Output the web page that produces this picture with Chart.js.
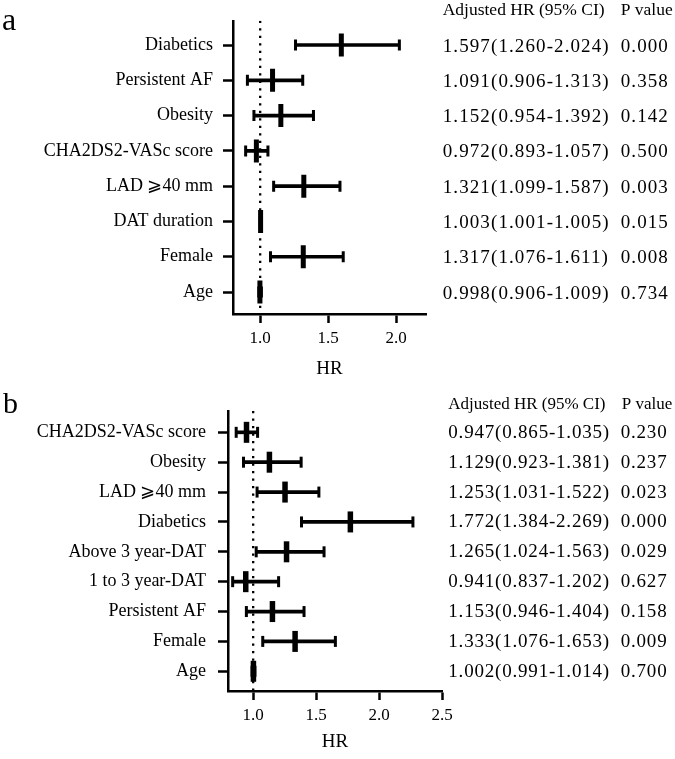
<!DOCTYPE html>
<html>
<head>
<meta charset="utf-8">
<script src="https://cdn.jsdelivr.net/npm/chart.js@4.4.0/dist/chart.umd.min.js"></script>
<style>
  html, body { margin: 0; padding: 0; background: #fff; }
  #wrap { position: relative; width: 675px; height: 759px; }
  canvas { position: absolute; left: 0; }
</style>
</head>
<body>
<div id="wrap">
  <canvas id="chartA" width="675" height="380" style="top:0px"></canvas>
  <canvas id="chartB" width="675" height="379" style="top:380px"></canvas>
</div>
<script>
const FONT = '"Liberation Serif", "Times New Roman", serif';

// Panel a
const labelsA = ['Diabetics', 'Persistent AF', 'Obesity', 'CHA2DS2-VASc score', 'LAD \u2A7E40 mm', 'DAT duration', 'Female', 'Age'];
const hrA = [1.597, 1.091, 1.152, 0.972, 1.321, 1.003, 1.317, 0.998];
const lowA = [1.260, 0.906, 0.954, 0.893, 1.099, 1.001, 1.076, 0.990];
const highA = [2.024, 1.313, 1.392, 1.057, 1.587, 1.005, 1.611, 1.009];
const ciTextA = ['1.597(1.260-2.024)', '1.091(0.906-1.313)', '1.152(0.954-1.392)', '0.972(0.893-1.057)',
  '1.321(1.099-1.587)', '1.003(1.001-1.005)', '1.317(1.076-1.611)', '0.998(0.906-1.009)'];
const pTextA = ['0.000', '0.358', '0.142', '0.500', '0.003', '0.015', '0.008', '0.734'];
const xTicksA = [1.0, 1.5, 2.0];

// Panel b
const labelsB = ['CHA2DS2-VASc score', 'Obesity', 'LAD \u2A7E40 mm', 'Diabetics', 'Above 3 year-DAT',
  '1 to 3 year-DAT', 'Persistent AF', 'Female', 'Age'];
const hrB = [0.947, 1.129, 1.253, 1.772, 1.265, 0.941, 1.153, 1.333, 1.002];
const lowB = [0.865, 0.923, 1.031, 1.384, 1.024, 0.837, 0.946, 1.076, 0.991];
const highB = [1.035, 1.381, 1.522, 2.269, 1.563, 1.202, 1.404, 1.653, 1.014];
const ciTextB = ['0.947(0.865-1.035)', '1.129(0.923-1.381)', '1.253(1.031-1.522)', '1.772(1.384-2.269)',
  '1.265(1.024-1.563)', '0.941(0.837-1.202)', '1.153(0.946-1.404)', '1.333(1.076-1.653)', '1.002(0.991-1.014)'];
const pTextB = ['0.230', '0.237', '0.023', '0.000', '0.029', '0.627', '0.158', '0.009', '0.700'];
const xTicksB = [1.0, 1.5, 2.0, 2.5];

const refHR = 1.0;

// draws the panel letter and the HR / p value table next to each row
const tablePlugin = {
  id: 'tableText',
  afterDraw(chart, args, opts) {
    const ctx = chart.ctx;
    const yScale = chart.scales.y;
    ctx.save();
    ctx.fillStyle = '#000';
    ctx.textAlign = 'left';

    ctx.textBaseline = 'alphabetic';
    ctx.font = opts.letterSize + 'px ' + FONT;
    ctx.fillText(opts.letter, opts.letterX, opts.letterY);

    ctx.textBaseline = 'middle';
    ctx.font = opts.headSize + 'px ' + FONT;
    ctx.fillText('Adjusted HR (95% CI)', opts.ciX, opts.headY);
    ctx.fillText('P value', opts.pHeadX, opts.headY);

    ctx.font = '19px ' + FONT;
    ctx.letterSpacing = opts.spacing + 'px';
    opts.ci.forEach((t, i) => {
      const y = yScale.getPixelForValue(i) + opts.dy;
      ctx.fillText(t, opts.ciX, y);
      ctx.fillText(opts.p[i], opts.pX, y);
    });
    ctx.restore();
  }
};

function makeForest(id, d) {
  const rows = d.labels.map((_, i) => i);
  const caps = [];
  rows.forEach(i => {
    caps.push({ x: d.low[i], y: i });
    caps.push({ x: d.high[i], y: i });
  });

  return new Chart(document.getElementById(id), {
    type: 'scatter',
    data: {
      datasets: [
        {
          // point estimate
          type: 'scatter',
          data: rows.map(i => ({ x: d.hr[i], y: i })),
          pointStyle: 'line',
          rotation: 90,
          pointRadius: d.markR,
          borderWidth: d.markW,
          borderColor: '#000',
          order: 0
        },
        {
          // whisker caps
          type: 'scatter',
          data: caps,
          pointStyle: 'line',
          rotation: 90,
          pointRadius: 5.5,
          borderWidth: 3,
          borderColor: '#000',
          order: 1
        },
        {
          // confidence interval line
          type: 'bar',
          indexAxis: 'y',
          data: rows.map(i => ({ y: i, x: [d.low[i], d.high[i]] })),
          backgroundColor: '#000',
          borderWidth: 0,
          barThickness: 3,
          order: 2
        },
        {
          // reference line at HR = 1
          type: 'scatter',
          data: [{ x: refHR, y: d.yMin }, { x: refHR, y: d.yMax }],
          showLine: true,
          borderColor: '#000',
          borderWidth: 2.3,
          borderDash: [2.3, 5.2],
          pointRadius: 0,
          order: 3
        }
      ]
    },
    options: {
      responsive: false,
      animation: false,
      events: [],
      layout: { padding: { left: 0, top: d.top, right: 675 - d.right, bottom: 0 } },
      plugins: {
        legend: { display: false },
        tooltip: { enabled: false },
        tableText: d.table
      },
      scales: {
        x: {
          type: 'linear',
          min: d.xMin,
          max: d.xMax,
          offset: false,
          border: { display: true, color: '#000', width: 2.5 },
          grid: { offset: false, drawOnChartArea: false, drawTicks: true, tickLength: 9, tickWidth: 2.5, tickColor: '#000' },
          ticks: {
            color: '#000',
            font: { family: FONT, size: 17 },
            padding: 5,
            autoSkip: false,
            maxRotation: 0,
            callback: v => v.toFixed(1)
          },
          title: {
            display: true,
            text: 'HR',
            color: '#000',
            font: { family: FONT, size: 19 },
            padding: { top: 0, bottom: d.titlePad }
          },
          afterBuildTicks: s => { s.ticks = d.xTicks.map(v => ({ value: v })); },
          afterFit: s => { s.height = d.xHeight; }
        },
        y: {
          type: 'linear',
          reverse: true,
          min: d.yMin,
          max: d.yMax,
          offset: false,
          border: { display: true, color: '#000', width: 2.5 },
          grid: { offset: false, drawOnChartArea: false, drawTicks: true, tickLength: 10, tickWidth: 2.5, tickColor: '#000' },
          ticks: {
            color: '#000',
            font: { family: FONT, size: 18 },
            padding: d.labelPad,
            autoSkip: false,
            callback: v => d.labels[v]
          },
          afterBuildTicks: s => { s.ticks = rows.map(i => ({ value: i })); },
          afterFit: s => { s.width = d.left; }
        }
      }
    },
    plugins: [tablePlugin]
  });
}

makeForest('chartA', {
  labels: labelsA, hr: hrA, low: lowA, high: highA, xTicks: xTicksA,
  xMin: 0.8, xMax: 2.22, yMin: -0.687, yMax: 7.622,
  left: 233, right: 426, top: 20, xHeight: 66, titlePad: 0, labelPad: 10,
  markR: 11.5, markW: 5,
  table: {
    letter: 'a', letterX: 2, letterY: 30, letterSize: 32,
    headSize: 17.5, headY: 10, ciX: 442.7, pHeadX: 620.7, pX: 620.7,
    dy: 1.5, spacing: 1.1, ci: ciTextA, p: pTextA
  }
});

makeForest('chartB', {
  labels: labelsB, hr: hrB, low: lowB, high: highB, xTicks: xTicksB,
  xMin: 0.8, xMax: 2.5, yMin: -0.714, yMax: 8.66,
  left: 228, right: 442, top: 31, xHeight: 68, titlePad: 6, labelPad: 12,
  markR: 10.5, markW: 5.5,
  table: {
    letter: 'b', letterX: 3, letterY: 33, letterSize: 30,
    headSize: 17, headY: 25, ciX: 448.3, pHeadX: 621.7, pX: 620.7,
    dy: 0.5, spacing: 0.8, ci: ciTextB, p: pTextB
  }
});
</script>
</body>
</html>
